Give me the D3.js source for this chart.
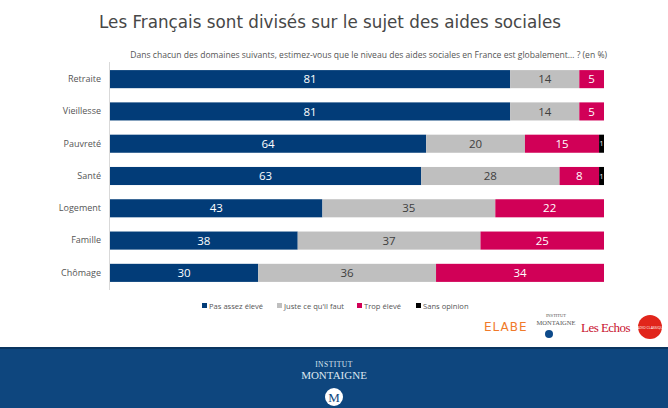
<!DOCTYPE html>
<html><head><meta charset="utf-8">
<script src="https://cdn.jsdelivr.net/npm/d3@7"></script>
<style>body{margin:0;background:#fff}svg{display:block}</style>
</head><body>
<script>
const categories = ["Retraite","Vieillesse","Pauvreté","Santé","Logement","Famille","Chômage"];
const pasAssez = [81,81,64,63,43,38,30];
const juste = [14,14,20,28,35,37,36];
const trop = [5,5,15,8,22,25,34];
const sansOpinion = [0,0,1,1,0,0,0];
const seriesNames = ["Pas assez élevé","Juste ce qu'il faut","Trop élevé","Sans opinion"];
const seriesColors = ["#023c78","#bfbfbf","#d10057","#000000"];
const labelColors = ["#ffffff","#404040","#ffffff","#ffffff"];

const W=668,H=408;
const svg=d3.select("body").append("svg").attr("width",W).attr("height",H);
const font="'Open Sans', sans-serif";

function fitWidth(sel,target,size){
  const w=sel.node().getComputedTextLength();
  sel.attr("font-size",size*target/w);
}

const title=svg.append("text").attr("x",330).attr("y",28).attr("text-anchor","middle")
  .attr("font-family","'DejaVu Sans', sans-serif").attr("font-size",19).attr("fill","#474747")
  .text("Les Français sont divisés sur le sujet des aides sociales");
fitWidth(title,462,19);
const sub=svg.append("text").attr("x",607).attr("y",58).attr("text-anchor","end")
  .attr("font-family",font).attr("font-size",8.3).attr("fill","#555")
  .text("Dans chacun des domaines suivants, estimez-vous que le niveau des aides sociales en France est globalement… ? (en %)");
fitWidth(sub,477,8.3);

const x=d3.scaleLinear().domain([0,100]).range([110,604]);
const y=d3.scaleBand().domain(categories).range([63,289]).paddingInner(0.44).paddingOuter(0.22);

const rows=categories.map((c,i)=>({cat:c,vals:[pasAssez[i],juste[i],trop[i],sansOpinion[i]]}));
const stackData=rows.map(r=>{const o={cat:r.cat};seriesNames.forEach((s,j)=>o[s]=r.vals[j]);return o;});
const stacked=d3.stack().keys(seriesNames)(stackData);

svg.append("line").attr("x1",109.5).attr("x2",109.5).attr("y1",62).attr("y2",290).attr("stroke","#d9d9d9");

stacked.forEach((layer,j)=>{
  const g=svg.append("g");
  layer.forEach(d=>{
    const v=d[1]-d[0]; if(v<=0) return;
    const cat=d.data.cat;
    g.append("rect").attr("x",x(d[0])).attr("y",y(cat)).attr("width",x(d[1])-x(d[0])).attr("height",y.bandwidth()).attr("fill",seriesColors[j]);
    const small=v<3;
    g.append("text").attr("x",(x(d[0])+x(d[1]))/2).attr("y",y(cat)+y.bandwidth()/2).attr("dy","0.36em")
      .attr("text-anchor","middle").attr("font-family",font).attr("font-size",small?7:11.5)
      .attr("fill",labelColors[j]).text(v);
  });
});

const yAxis=svg.append("g").attr("transform","translate(101,0)")
  .call(d3.axisLeft(y).tickSize(0).tickPadding(0));
yAxis.select(".domain").remove();
yAxis.selectAll("text").attr("font-family",font).attr("font-size",9).attr("fill","#555");

const legX=[202,277,357,416];
seriesNames.forEach((s,j)=>{
  svg.append("rect").attr("x",legX[j]).attr("y",303).attr("width",5).attr("height",5).attr("fill",seriesColors[j]);
  svg.append("text").attr("x",legX[j]+7).attr("y",308.5).attr("font-family",font).attr("font-size",7.6).attr("fill","#555").text(s);
});

// logos
svg.append("text").attr("x",484).attr("y",331).attr("font-family","'DejaVu Sans', sans-serif").attr("font-size",12)
  .attr("fill","#f07a2a").attr("letter-spacing",1).text("ELABE");
svg.append("text").attr("x",556).attr("y",317).attr("text-anchor","middle").attr("font-family","'Liberation Serif', serif").attr("font-size",4.5).attr("fill","#555").text("INSTITUT");
svg.append("text").attr("x",556).attr("y",325).attr("text-anchor","middle").attr("font-family","'Liberation Serif', serif").attr("font-size",6.5).attr("fill","#555").text("MONTAIGNE");
svg.append("circle").attr("cx",549).attr("cy",334).attr("r",4).attr("fill","#0d4a8a");
const echos=svg.append("text").attr("x",581).attr("y",332).attr("font-family","'Liberation Serif', serif").attr("font-size",16).attr("fill","#c8102e").attr("letter-spacing",-0.5).text("Les Echos");
fitWidth(echos,50,16);
svg.append("circle").attr("cx",650).attr("cy",327).attr("r",12).attr("fill","#e1251b");
svg.append("text").attr("x",650).attr("y",329).attr("text-anchor","middle").attr("font-family",font).attr("font-size",3.5).attr("fill","#fff").text("RADIO CLASSIQUE");

// footer
svg.append("rect").attr("x",0).attr("y",347).attr("width",W).attr("height",H-347).attr("fill","#0e467e");
svg.append("rect").attr("x",0).attr("y",347).attr("width",W).attr("height",2).attr("fill","#0a3560");
svg.append("text").attr("x",334).attr("y",367).attr("text-anchor","middle").attr("font-family","'Liberation Serif', serif").attr("font-size",7.5).attr("fill","#dde6f0").attr("letter-spacing",0.5).text("INSTITUT");
svg.append("text").attr("x",334).attr("y",379).attr("text-anchor","middle").attr("font-family","'Liberation Serif', serif").attr("font-size",11).attr("fill","#dde6f0").text("MONTAIGNE");
svg.append("circle").attr("cx",334).attr("cy",397).attr("r",9).attr("fill","#ffffff");
svg.append("text").attr("x",334).attr("y",401.5).attr("text-anchor","middle").attr("font-family","'Liberation Serif', serif").attr("font-size",13).attr("fill","#0e467e").text("M");
</script>
</body></html>
